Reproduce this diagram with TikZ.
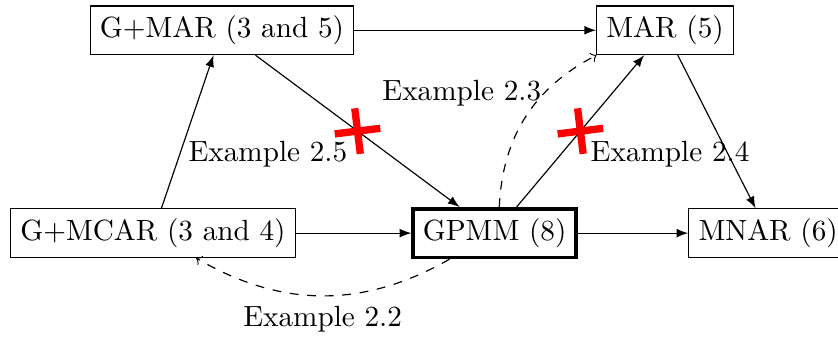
\documentclass[tikz,border=0pt]{standalone}
\usetikzlibrary{shapes.misc}
\begin{document}
\begin{tikzpicture}[box/.style={draw, rectangle},
    imp/.style={-latex},
    ex/.style={->, dashed},
    nogo/.style={cross out, draw=red, line width=2.5pt, minimum size=8.6pt, inner sep=0pt, rotate=52}]
    \useasboundingbox (0,0) rectangle (10.08,4.054);
    \node[box] (gmar) at (2.67,3.69) {G+MAR (3 and 5)};
    \node[box] (mar) at (8.00,3.69) {MAR (5)};
    \node[box] (gmcar) at (1.84,1.25) {G+MCAR (3 and 4)};
    \node[box, very thick] (gpmm) at (5.95,1.25) {GPMM (8)};
    \node[box] (mnar) at (9.24,1.25) {MNAR (6)};
    \draw[imp] (gmar) -- (mar);
    \draw[imp] (gmcar) -- (gmar);
    \draw[imp] (gmcar) -- (gpmm);
    \draw[imp] (gpmm) -- (mnar);
    \draw[imp] (mar) -- (mnar);
    \draw[imp] (gmar) -- node[nogo] (no25) {} node[below left] (ex25) {Example 2.5} (gpmm);
    \draw[imp] (gpmm) -- node[nogo] (no24) {} node[below right] (ex24) {Example 2.4} (mar);
    % counterexamples
    \draw[ex] (gpmm) to[bend left=30] node[below] (ex22) {Example 2.2} (gmcar);
    \draw[ex] (gpmm) to[bend left=30] node[pos=0.67, left, inner sep=1pt] (ex23) {Example 2.3} (mar);
\end{tikzpicture}
\end{document}
